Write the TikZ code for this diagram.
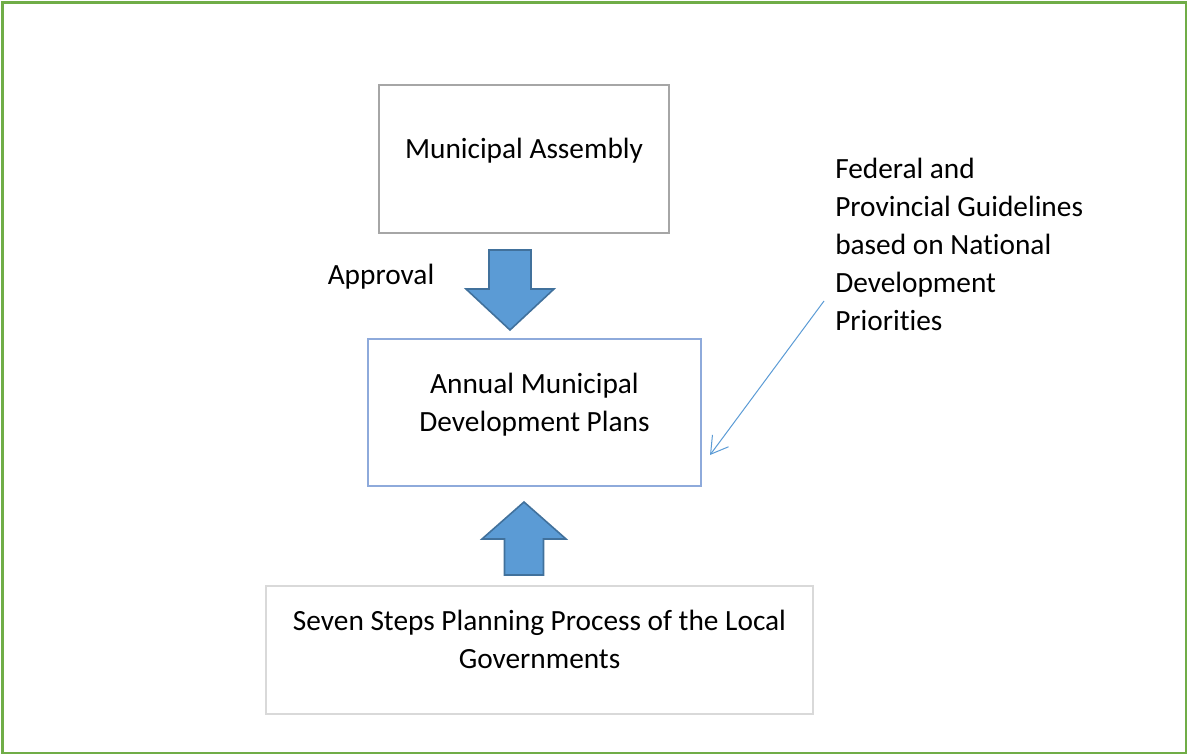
\documentclass[tikz,border=0pt]{standalone}
\usepackage{fontspec}
\setmainfont[Ligatures=NoCommon]{Carlito}
\usetikzlibrary{arrows.meta,calc}

\begin{document}
\begin{tikzpicture}[x=0.75pt,y=0.75pt,yscale=-1,
  every node/.style={font=\fontsize{22pt}{28.5pt}\selectfont},
  plan box/.style={draw, line width=1.5pt, align=center, inner sep=0pt, execute at end node={\rule[-16pt]{0pt}{0pt}}},
  block arrow/.style={draw={rgb, 255:red, 65; green, 113; blue, 156 }, fill={rgb, 255:red, 91; green, 155; blue, 213 }, line width=1.2pt, line join=miter},
  guide arrow/.style={draw={rgb, 255:red, 91; green, 155; blue, 213 }, line width=0.75pt, -{Straight Barb[length=12.5pt,width=15pt]}}
]
\useasboundingbox (0,0) rectangle (1188,755);

%Shape: Rectangle [frame]
\draw [color={rgb, 255:red, 112; green, 173; blue, 71 }, line width=2pt] (2.5,2.5) rectangle (1186,753);

%Shape: Rectangle [assembly]
\node [plan box, draw={rgb, 255:red, 166; green, 166; blue, 166 }, minimum width=217.5pt, minimum height=111pt] (assembly) at (524,159) {Municipal Assembly};
%Shape: Rectangle [plans]
\node [plan box, draw={rgb, 255:red, 142; green, 170; blue, 219 }, minimum width=249.75pt, minimum height=110.25pt] (plans) at (534.5,412.5) {Annual Municipal\\Development Plans};
%Shape: Rectangle [steps]
\node [plan box, draw={rgb, 255:red, 217; green, 217; blue, 217 }, line width=1.8pt, minimum width=410.25pt, minimum height=96pt] (steps) at (539.5,650) {Seven Steps Planning Process of the Local\\Governments};

%Shape: Down Arrow
\draw [block arrow] (assembly.south) ++(-35,16) -- ++(42,0) -- ++(0,39) -- ++(23,0) -- ++(-44,41) -- ++(-44,-41) -- ++(23,0) -- cycle;
%Shape: Up Arrow
\draw [block arrow] (plans.south) ++(-10.5,15) -- ++(42,37) -- ++(-22.5,0) -- ++(0,36) -- ++(-39,0) -- ++(0,-36) -- ++(-22.5,0) -- cycle;

% Text Node
\node (approval) at (381,277) {Approval};
% Text Node
\node [align=left, anchor=north west, inner sep=0pt] (guidelines) at (835,158) {Federal and\\Provincial Guidelines\\based on National\\Development\\Priorities};

%Straight Lines [guide]
\coordinate (guide tail) at (824,301);
\draw [guide arrow] (guide tail) -- ($(plans.east)+(8,42.5)$);

\end{tikzpicture}
\end{document}
